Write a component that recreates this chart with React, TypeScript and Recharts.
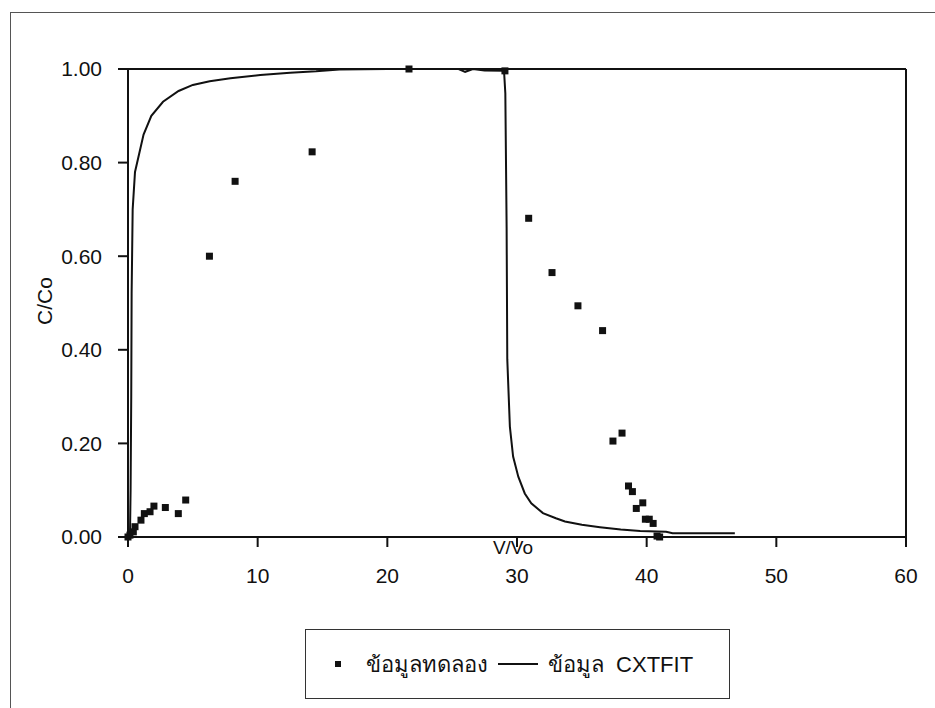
import * as React from "react";
import {
  ReferenceLine,
  Scatter,
  ScatterChart,
  XAxis,
  YAxis,
} from "recharts";

// experimental points (V/Vo, C/Co)
const expX = [
  0, 0.15, 0.41, 0.54, 1.0, 1.26, 1.7, 2.0, 2.88, 3.88, 4.45, 6.28, 8.26, 14.2,
  21.67, 29.07, 30.9, 32.7, 34.7, 36.6, 37.4, 38.1, 38.6, 38.9, 39.2, 39.7,
  39.9, 40.2, 40.5, 40.8, 41.0,
];
const expY = [
  0, 0.004, 0.011, 0.022, 0.036, 0.05, 0.054, 0.066, 0.063, 0.05, 0.079, 0.6,
  0.76, 0.823, 1.0, 0.996, 0.681, 0.565, 0.494, 0.441, 0.205, 0.222, 0.109,
  0.097, 0.061, 0.073, 0.038, 0.038, 0.029, 0.002, 0.0,
];

// CXTFIT curve
const fitX = [
  0.15, 0.2, 0.25, 0.28, 0.36, 0.54, 0.87, 1.2, 1.8, 2.7, 3.9, 5.0, 6.3, 7.9,
  10.2, 12.5, 14.5, 16.3, 20, 25.5, 26.0, 26.6, 27.5, 29.0, 29.1, 29.2, 29.25,
  29.45, 29.7, 30.1, 30.6, 31.1, 32.0, 33.0, 33.7, 35.0, 36.4, 38.0, 39.5,
  41.5, 42.0, 46.8,
];
const fitY = [
  0, 0.1, 0.3, 0.52, 0.7, 0.78, 0.82, 0.86, 0.9, 0.93, 0.953, 0.966, 0.974,
  0.98, 0.987, 0.992, 0.995, 0.999, 1.0, 1.0, 0.994, 1.0, 0.997, 0.996, 0.948,
  0.66, 0.38, 0.236, 0.172, 0.129, 0.093, 0.072, 0.051, 0.04, 0.033, 0.026,
  0.021, 0.016, 0.013, 0.011, 0.008, 0.008,
];

const xTicks = [0, 10, 20, 30, 40, 50, 60];
const yTicks = [0, 0.2, 0.4, 0.6, 0.8, 1.0];

const expData = expX.map((x, i) => ({ x, y: expY[i] }));
const fitData = fitX.map((x, i) => ({ x, y: fitY[i] }));

const FONT = '"Liberation Sans", Arial, "Noto Sans", sans-serif';
const INK = "#111";

const Square = (p: any) => (
  <rect x={p.cx - 3.5} y={p.cy - 3.5} width={7} height={7} fill={INK} />
);

const YLabel = (p: any) => {
  const vb = p.viewBox;
  const x = vb.x + 42;
  const y = vb.y + vb.height / 2 - 2;
  return (
    <text
      x={x}
      y={y}
      transform={`rotate(-90, ${x}, ${y})`}
      textAnchor="middle"
      fontSize={21}
      fill={INK}
      fontFamily={FONT}
    >
      C/Co
    </text>
  );
};

const XLabel = (p: any) => {
  const vb = p.viewBox;
  return (
    <text
      x={vb.x + vb.width / 2 - 4}
      y={vb.y + 17}
      textAnchor="middle"
      fontSize={19}
      fill={INK}
      fontFamily={FONT}
    >
      V/Vo
    </text>
  );
};

export default function App() {
  return (
    <div
      style={{
        position: "absolute",
        left: 0,
        top: 0,
        width: 935,
        height: 708,
        background: "#fff",
        overflow: "hidden",
        fontFamily: FONT,
      }}
    >
      <div
        style={{
          position: "absolute",
          left: 10,
          top: 12,
          width: 924,
          height: 700,
          borderLeft: "1px solid #555",
          borderTop: "1px solid #555",
        }}
      />
      <ScatterChart
        width={935}
        height={708}
        margin={{ top: 69, right: 29, left: 10, bottom: 111 }}
        style={{ position: "absolute", left: 0, top: 0 }}
      >
        <XAxis
          type="number"
          dataKey="x"
          domain={[0, 60]}
          ticks={xTicks}
          interval={0}
          height={60}
          tickSize={10}
          tickMargin={21}
          stroke={INK}
          strokeWidth={2}
          tick={{ fill: INK, fontSize: 21, fontFamily: FONT }}
          label={<XLabel />}
        />
        <YAxis
          type="number"
          dataKey="y"
          domain={[0, 1]}
          ticks={yTicks}
          interval={0}
          width={118}
          tickSize={10}
          tickMargin={16}
          stroke={INK}
          strokeWidth={2}
          tickFormatter={(v: number) => v.toFixed(2)}
          tick={{ fill: INK, fontSize: 21, fontFamily: FONT }}
          label={<YLabel />}
        />
        <ReferenceLine y={1} stroke={INK} strokeWidth={2} />
        <ReferenceLine x={60} stroke={INK} strokeWidth={2} />
        <Scatter
          name="ข้อมูล CXTFIT"
          data={fitData}
          line={{ stroke: INK, strokeWidth: 2 }}
          shape={() => <g />}
          isAnimationActive={false}
        />
        <Scatter
          name="ข้อมูลทดลอง"
          data={expData}
          shape={Square}
          isAnimationActive={false}
        />
      </ScatterChart>
      <div
        style={{
          position: "absolute",
          left: 305,
          top: 629,
          width: 425,
          height: 70,
          border: "1px solid #333",
          display: "flex",
          alignItems: "center",
          fontSize: 22,
          color: INK,
          boxSizing: "border-box",
        }}
      >
        <span
          style={{
            display: "inline-block",
            width: 6,
            height: 6,
            background: INK,
            marginLeft: 29,
            marginRight: 25,
          }}
        />
        <span>ข้อมูลทดลอง</span>
        <span
          style={{
            display: "inline-block",
            width: 40,
            height: 2,
            background: INK,
            marginLeft: 10,
            marginRight: 10,
          }}
        />
        <span style={{ wordSpacing: 6 }}>ข้อมูล CXTFIT</span>
      </div>
    </div>
  );
}
